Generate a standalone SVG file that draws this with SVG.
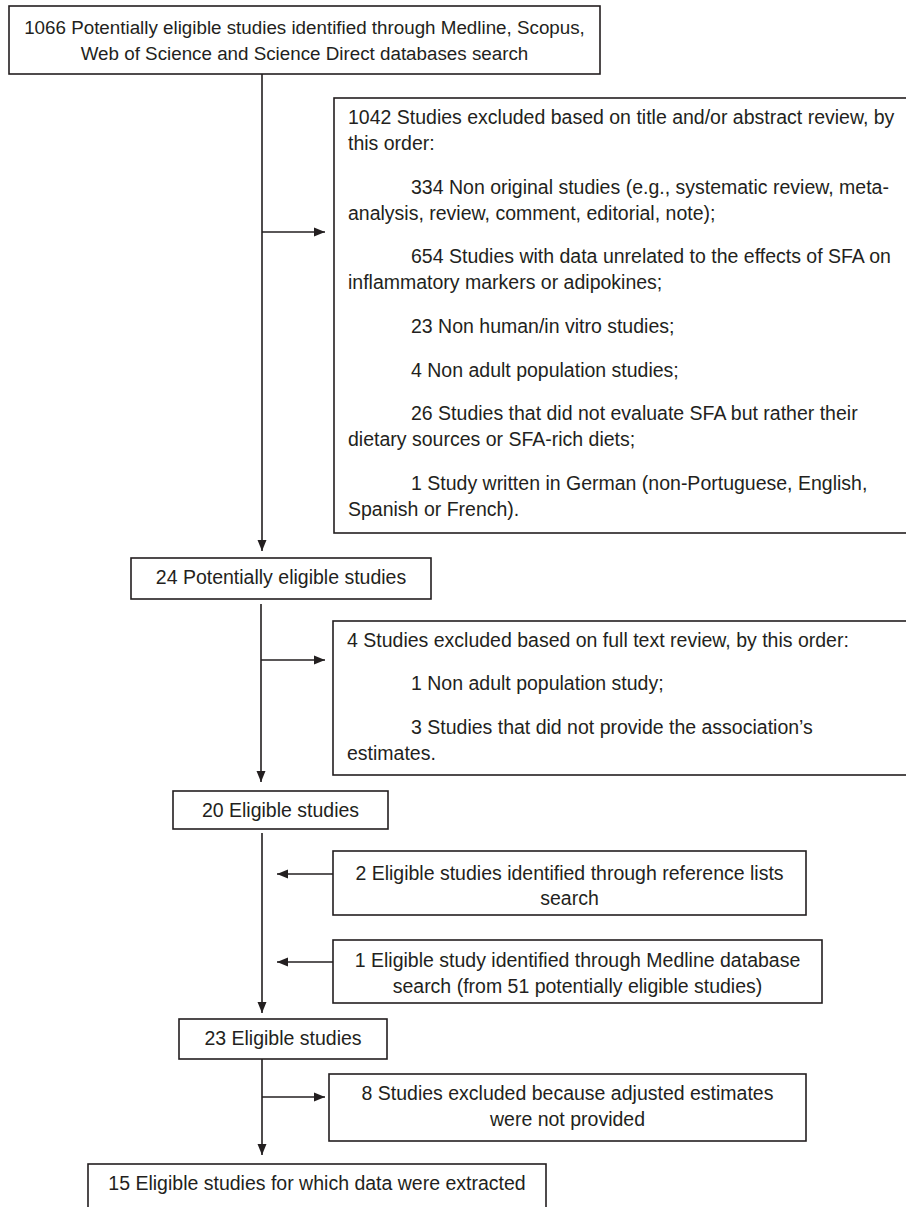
<svg xmlns="http://www.w3.org/2000/svg" width="906" height="1207" viewBox="0 0 906 1207">
<style>
.box{fill:#fff;stroke:#231f20;stroke-width:1.6}
.t{font-family:"Liberation Sans",Arial,sans-serif;font-size:19.5px;fill:#231f20}
.s{font-size:18.8px}
.c{text-anchor:middle}
.ln{stroke:#231f20;stroke-width:1.6;fill:none}
</style>
<defs>
<marker id="ah" markerUnits="userSpaceOnUse" markerWidth="12" markerHeight="10" refX="11" refY="5" orient="auto">
<path d="M0,0.5 L11,5 L0,9.5 z" fill="#231f20"/>
</marker>
</defs>
<rect width="906" height="1207" fill="#fff"/>
<g id="connectors">
<line class="ln" x1="262" y1="74" x2="262" y2="551" marker-end="url(#ah)"/>
<line class="ln" x1="262" y1="232" x2="325" y2="232" marker-end="url(#ah)"/>
<line class="ln" x1="261" y1="604" x2="261" y2="782" marker-end="url(#ah)"/>
<line class="ln" x1="261" y1="660" x2="325" y2="660" marker-end="url(#ah)"/>
<line class="ln" x1="262" y1="833" x2="262" y2="1013" marker-end="url(#ah)"/>
<line class="ln" x1="333" y1="874" x2="277" y2="874" marker-end="url(#ah)"/>
<line class="ln" x1="333" y1="962" x2="277" y2="962" marker-end="url(#ah)"/>
<line class="ln" x1="262" y1="1059" x2="262" y2="1155" marker-end="url(#ah)"/>
<line class="ln" x1="262" y1="1097" x2="325" y2="1097" marker-end="url(#ah)"/>
</g>
<g id="n1066">
<rect class="box" x="9" y="6" width="591" height="68"/>
<text class="t s c" x="304.5" y="34">1066 Potentially eligible studies identified through Medline, Scopus,</text>
<text class="t s c" x="304.5" y="60">Web of Science and Science Direct databases search</text>
</g>
<g id="excl1042">
<rect class="box" x="334" y="98" width="590" height="435"/>
<text class="t" x="348" y="124">1042 Studies excluded based on title and/or abstract review, by</text>
<text class="t" x="348" y="150">this order:</text>
<text class="t" x="411" y="194">334 Non original studies (e.g., systematic review, meta-</text>
<text class="t" x="348" y="220">analysis, review, comment, editorial, note);</text>
<text class="t" x="411" y="263">654 Studies with data unrelated to the effects of SFA on</text>
<text class="t" x="348" y="289">inflammatory markers or adipokines;</text>
<text class="t" x="411" y="333">23 Non human/in vitro studies;</text>
<text class="t" x="411" y="377">4 Non adult population studies;</text>
<text class="t" x="411" y="420">26 Studies that did not evaluate SFA but rather their</text>
<text class="t" x="348" y="446">dietary sources or SFA-rich diets;</text>
<text class="t" x="411" y="490">1 Study written in German (non-Portuguese, English,</text>
<text class="t" x="348" y="516">Spanish or French).</text>
</g>
<g id="n24">
<rect class="box" x="131" y="558" width="300" height="41"/>
<text class="t c" x="281" y="584">24 Potentially eligible studies</text>
</g>
<g id="excl4">
<rect class="box" x="333" y="621" width="591" height="154"/>
<text class="t" x="347" y="647">4 Studies excluded based on full text review, by this order:</text>
<text class="t" x="411" y="690">1 Non adult population study;</text>
<text class="t" x="411" y="734">3 Studies that did not provide the association’s</text>
<text class="t" x="347" y="760">estimates.</text>
</g>
<g id="n20">
<rect class="box" x="173" y="791" width="215" height="38"/>
<text class="t c" x="280.5" y="817">20 Eligible studies</text>
</g>
<g id="add2">
<rect class="box" x="333" y="851" width="473" height="64"/>
<text class="t c" x="569.5" y="880">2 Eligible studies identified through reference lists</text>
<text class="t c" x="569.5" y="905">search</text>
</g>
<g id="add1">
<rect class="box" x="333" y="940" width="489" height="63"/>
<text class="t c" x="577.5" y="967">1 Eligible study identified through Medline database</text>
<text class="t c" x="577.5" y="993">search (from 51 potentially eligible studies)</text>
</g>
<g id="n23">
<rect class="box" x="179" y="1019" width="208" height="40"/>
<text class="t c" x="283" y="1045">23 Eligible studies</text>
</g>
<g id="excl8">
<rect class="box" x="329" y="1074" width="477" height="67"/>
<text class="t c" x="567.5" y="1100">8 Studies excluded because adjusted estimates</text>
<text class="t c" x="567.5" y="1126">were not provided</text>
</g>
<g id="n15">
<rect class="box" x="88" y="1164" width="458" height="60"/>
<text class="t c" x="317" y="1190">15 Eligible studies for which data were extracted</text>
</g>
</svg>
